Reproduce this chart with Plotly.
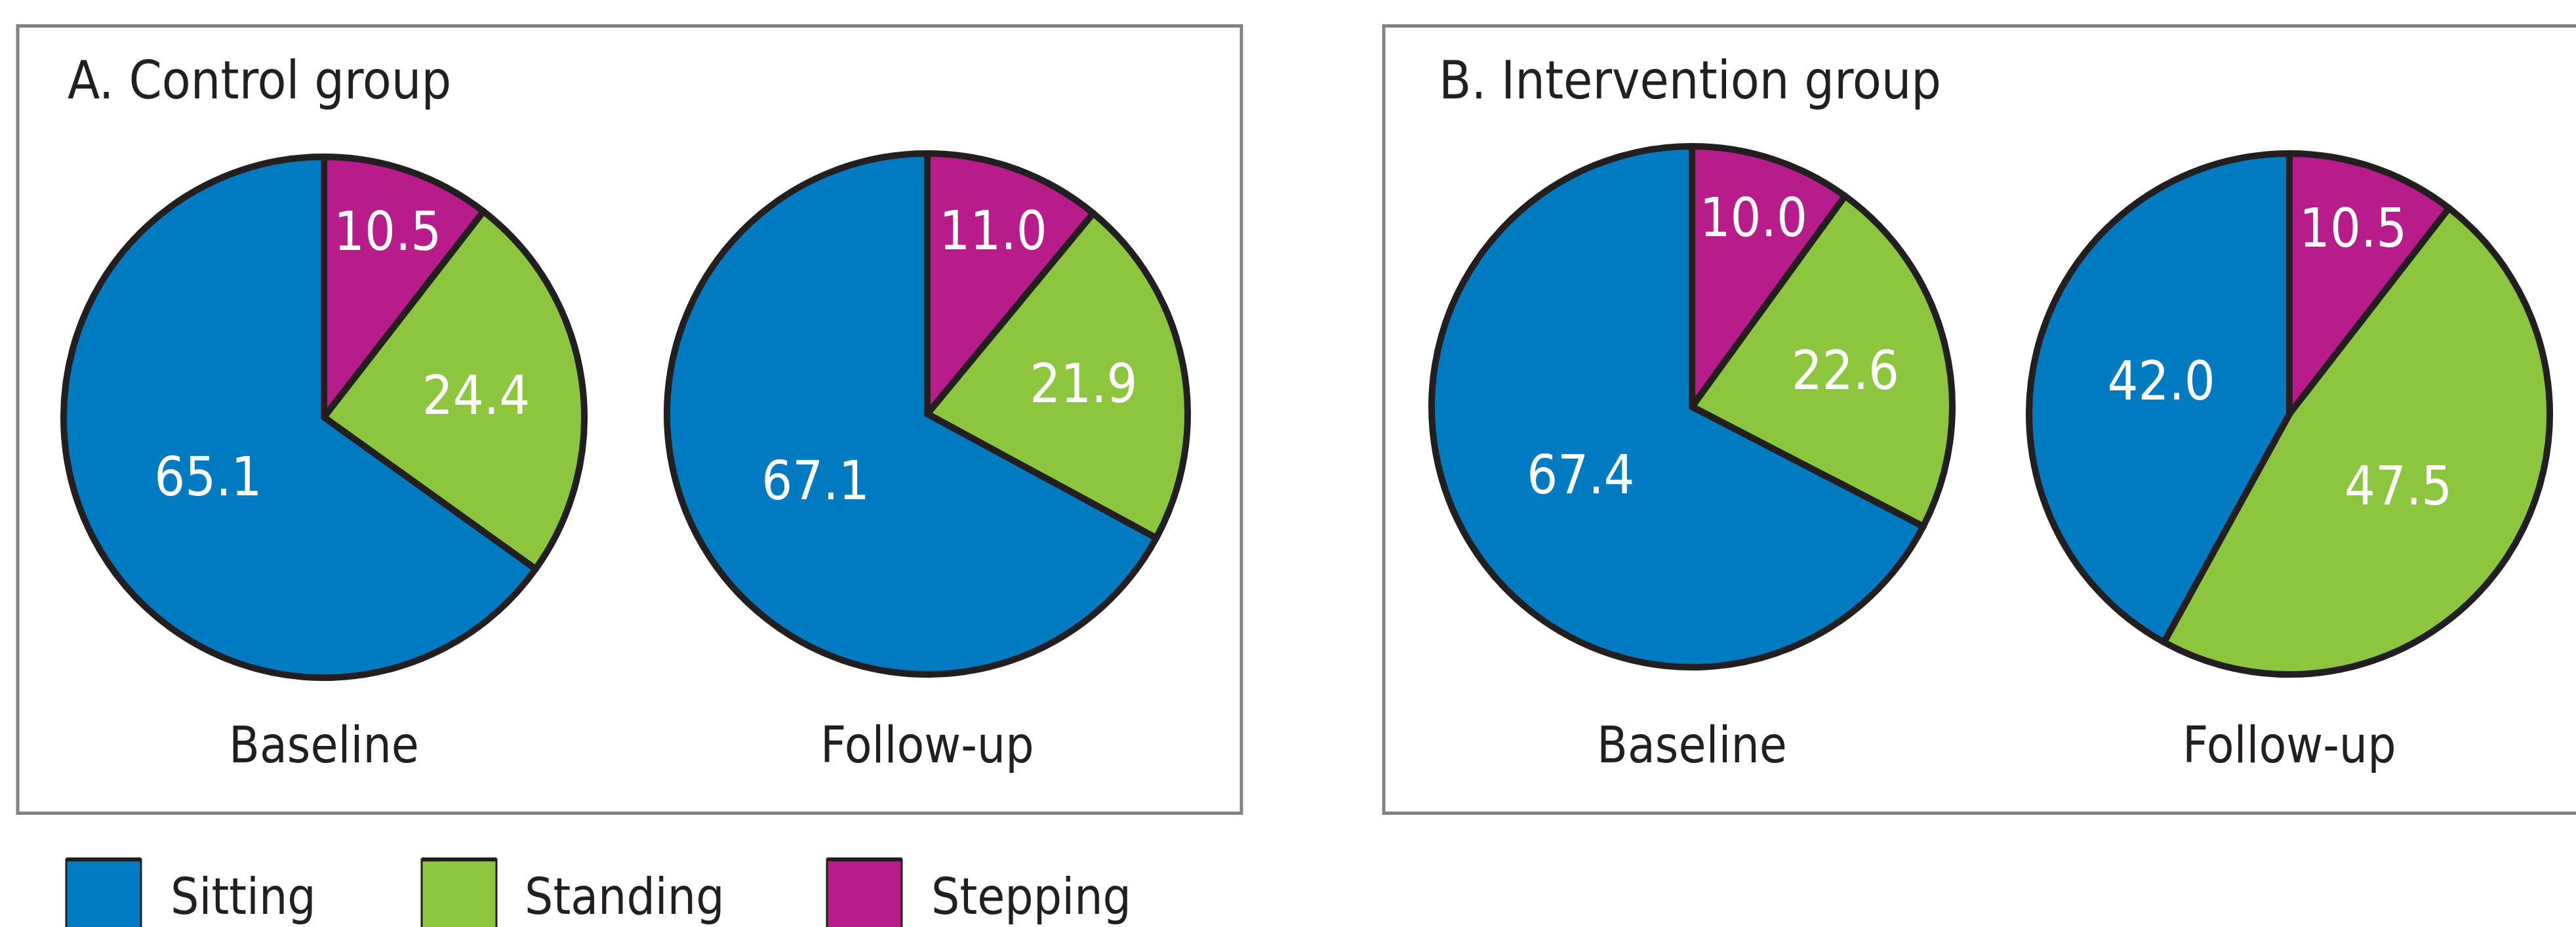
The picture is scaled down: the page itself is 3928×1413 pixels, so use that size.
import plotly.graph_objects as go

W, H = 3928, 1413

categories = ["Sitting", "Standing", "Stepping"]
colors = ["#007BC2", "#8CC63F", "#B81C8A"]
outline = "#231F20"

panel_titles = ["A. Control group", "B. Intervention group"]
time_labels = ["Baseline", "Follow-up"]

control_baseline = [65.1, 24.4, 10.5]
control_followup = [67.1, 21.9, 11.0]
intervention_baseline = [67.4, 22.6, 10.0]
intervention_followup = [42.0, 47.5, 10.5]

FONT = "Liberation Sans Narrow, Arial Narrow, DejaVu Sans Condensed, sans-serif"

# pie centres / radius in pixels (layout only)
pies = [
    (control_baseline, 494, 636),
    (control_followup, 1414, 631),
    (intervention_baseline, 2580, 620),
    (intervention_followup, 3491, 631),
]
R = 397

fig = go.Figure()
for vals, cx, cy in pies:
    # slices run clockwise from 12 o'clock: Stepping, Standing, Sitting
    fig.add_trace(go.Pie(
        labels=categories[::-1], values=vals[::-1], sort=False,
        direction="clockwise", rotation=0,
        marker=dict(colors=colors[::-1], line=dict(color=outline, width=10)),
        textinfo="value", texttemplate="%{value:.1f}",
        textposition="inside", insidetextorientation="horizontal",
        textfont=dict(family=FONT, size=82, color="white"),
        showlegend=False, hoverinfo="label+value",
        domain=dict(x=[(cx - R) / W, (cx + R) / W],
                    y=[1 - (cy + R) / H, 1 - (cy - R) / H]),
    ))

shapes = []
annotations = []
# panel boxes
shapes.append(dict(type="rect", xref="paper", yref="paper",
                   x0=27 / W, x1=1893 / W, y0=1 - 1239.5 / H, y1=1 - 39.5 / H,
                   line=dict(color="#808285", width=5), fillcolor="rgba(0,0,0,0)",
                   layer="below"))
shapes.append(dict(type="rect", xref="paper", yref="paper",
                   x0=2110 / W, x1=3940 / W, y0=1 - 1239.5 / H, y1=1 - 39.5 / H,
                   line=dict(color="#808285", width=5), fillcolor="rgba(0,0,0,0)",
                   layer="below"))

# titles
for title, x in zip(panel_titles, [101, 2192]):
    annotations.append(dict(text=title, xref="paper", yref="paper",
                            x=x / W, y=1 - 122 / H, xanchor="left", yanchor="middle",
                            showarrow=False,
                            font=dict(family=FONT, size=80, color=outline)))

# time labels under pies
for i, (vals, cx, cy) in enumerate(pies):
    annotations.append(dict(text=time_labels[i % 2], xref="paper", yref="paper",
                            x=cx / W, y=1 - 1135 / H, xanchor="center", yanchor="middle",
                            showarrow=False,
                            font=dict(family=FONT, size=76, color=outline)))

# legend
sw_x = [101, 643, 1261]
tx_x = [258, 798, 1418]
for cat, col, sx, tx in zip(categories, colors, sw_x, tx_x):
    shapes.append(dict(type="rect", xref="paper", yref="paper",
                       x0=sx / W, x1=(sx + 114) / W, y0=1 - 1430 / H, y1=1 - 1310 / H,
                       line=dict(color=outline, width=3), fillcolor=col))
    shapes.append(dict(type="line", xref="paper", yref="paper",
                       x0=sx / W, x1=(sx + 114) / W, y0=1 - 1310 / H, y1=1 - 1310 / H,
                       line=dict(color=outline, width=6)))
    annotations.append(dict(text=cat, xref="paper", yref="paper",
                            x=tx / W, y=1 - 1366 / H, xanchor="left", yanchor="middle",
                            showarrow=False,
                            font=dict(family=FONT, size=76, color=outline)))

fig.update_layout(
    width=W, height=H,
    margin=dict(l=0, r=0, t=0, b=0),
    paper_bgcolor="white", plot_bgcolor="white",
    shapes=shapes, annotations=annotations,
    uniformtext=dict(minsize=82, mode="show"),
)

fig.write_html("out.html")
